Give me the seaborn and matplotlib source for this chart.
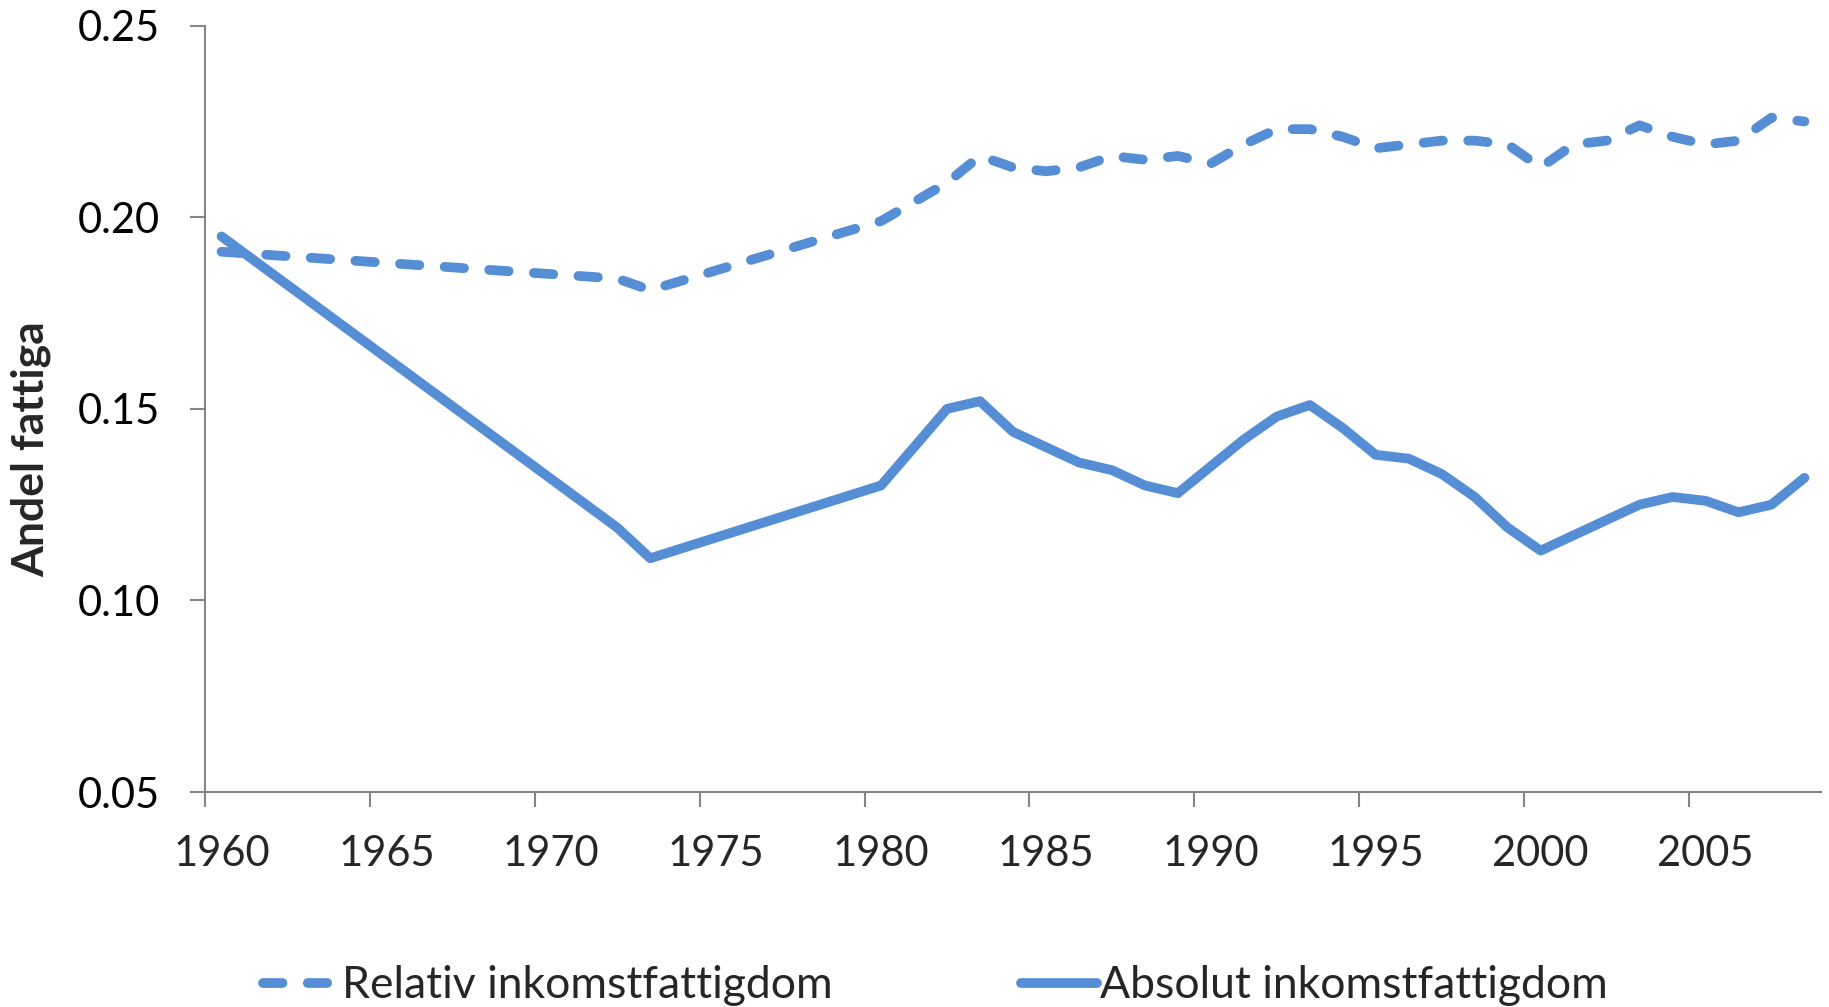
import numpy as np
import pandas as pd
import seaborn as sns
import matplotlib.pyplot as plt
from matplotlib.ticker import FormatStrFormatter

# years with data (1961-1971 and 1974-1979 missing)
years = [1960, 1972, 1973] + list(range(1980, 2009))

relativ = [0.191, 0.184, 0.181,
           0.199, 0.204, 0.209, 0.216, 0.213, 0.212, 0.213, 0.216, 0.215, 0.216,
           0.214, 0.219, 0.223, 0.223, 0.221, 0.218, 0.219, 0.220, 0.220, 0.219,
           0.213, 0.219, 0.220, 0.224, 0.221, 0.219, 0.220, 0.226, 0.225]

absolut = [0.195, 0.119, 0.111,
           0.130, 0.140, 0.150, 0.152, 0.144, 0.140, 0.136, 0.134, 0.130, 0.128,
           0.135, 0.142, 0.148, 0.151, 0.145, 0.138, 0.137, 0.133, 0.127, 0.119,
           0.113, 0.117, 0.121, 0.125, 0.127, 0.126, 0.123, 0.125, 0.132]

labels = ["Relativ inkomstfattigdom", "Absolut inkomstfattigdom"]
y_ticks = [0.05, 0.10, 0.15, 0.20, 0.25]
x_ticks = list(range(1960, 2006, 5))

blue = "#558ed5"
grey = "#868686"

sns.set_theme(style="ticks")
plt.rcParams["font.family"] = ["Lato", "DejaVu Sans"]

fig = plt.figure(figsize=(18.29, 10.07), dpi=100)
ax = fig.add_axes([0.1121, 0.2135, 0.8835, 0.761])

# values (and year labels) sit in the middle of each year, like the Excel date axis
xpos = np.array(years) + 0.5
df = pd.DataFrame({"x": xpos, "rel": relativ, "abs": absolut})

sns.lineplot(data=df, x="x", y="rel", ax=ax, color=blue, lw=7, label=labels[0],
             linestyle=(0, (2.0, 2.6)), dash_capstyle="round")
sns.lineplot(data=df, x="x", y="abs", ax=ax, color=blue, lw=7, label=labels[1],
             solid_capstyle="round")

ax.set_xlim(1960, 2009)
ax.set_ylim(0.05, 0.25)
ax.set_xticks(x_ticks)
ax.set_xticklabels([])
ax.set_xticks(np.array(x_ticks) + 0.5, minor=True)
ax.set_xticklabels([str(t) for t in x_ticks], minor=True)
ax.set_yticks(y_ticks)
ax.yaxis.set_major_formatter(FormatStrFormatter("%.2f"))

for side in ["top", "right"]:
    ax.spines[side].set_visible(False)
for side in ["left", "bottom"]:
    ax.spines[side].set_color(grey)
    ax.spines[side].set_linewidth(1.5)

ax.tick_params(axis="both", which="major", direction="out", length=10.5, width=1.5,
               color=grey, labelsize=30, labelcolor="black", bottom=True, left=True)
ax.tick_params(axis="y", pad=22)
ax.tick_params(axis="x", which="minor", length=0, labelsize=30, pad=31)

ax.set_xlabel("")
ax.set_ylabel("Andel fattiga", fontsize=32, fontweight="bold")
ax.yaxis.set_label_coords(-0.095, 0.448)

handles, lbls = ax.get_legend_handles_labels()
ax.get_legend().remove()
fig.legend(handles, lbls, loc="center", bbox_to_anchor=(0.5115, 0.021), ncol=2,
           frameon=False, fontsize=32, handlelength=1.69, handletextpad=0.08,
           columnspacing=4.25)

fig.savefig("out.png", dpi=100)
